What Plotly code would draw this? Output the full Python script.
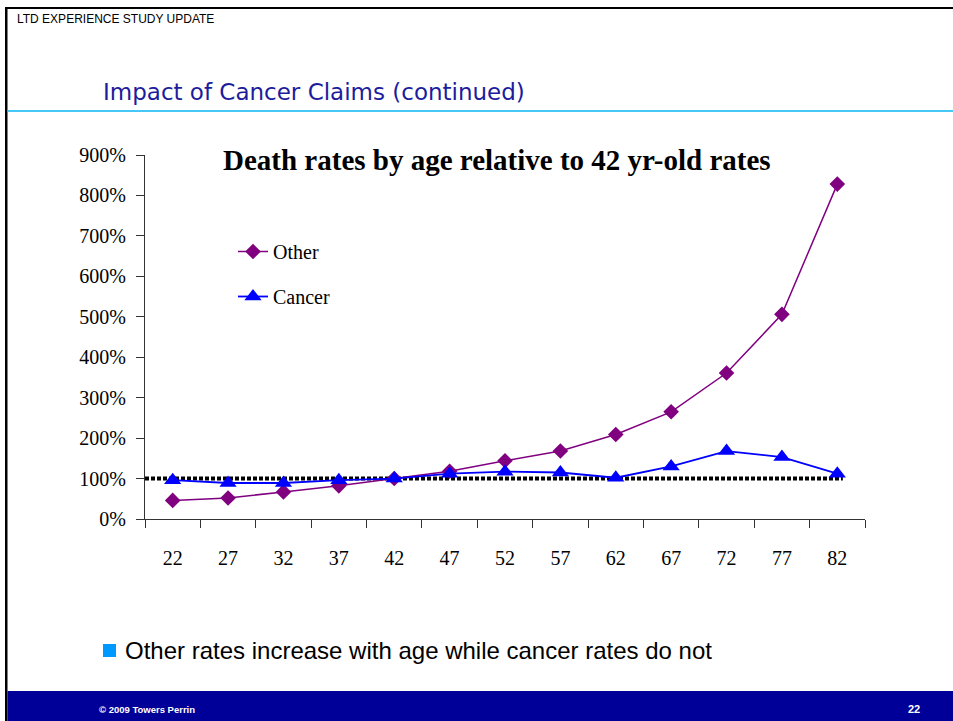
import plotly.graph_objects as go

# Ages (category axis) and death rates relative to age-42 rates, in percent
ages = ["22", "27", "32", "37", "42", "47", "52", "57", "62", "67", "72", "77", "82"]
other_rates = [46, 52, 67, 82, 100, 118, 144, 168, 209, 265, 361, 506, 828]
cancer_rates = [96, 89, 89, 96, 100, 112, 117, 115, 102, 130, 168, 153, 112]
baseline_rate = 100

y_tickvals = [0, 100, 200, 300, 400, 500, 600, 700, 800, 900]
y_ticktext = [f"{v}%" for v in y_tickvals]

W, H = 953, 721
PLOT_L, PLOT_R, PLOT_T, PLOT_B = 145, 865, 155, 519

SERIF = "Garamond, 'Liberation Serif', serif"
SANS = "Arial, 'Liberation Sans', sans-serif"


def px_x(x):
    return (x - PLOT_L) / (PLOT_R - PLOT_L)


def px_y(y):
    return (PLOT_B - y) / (PLOT_B - PLOT_T)


fig = go.Figure()

fig.add_trace(go.Scatter(
    x=ages, y=other_rates, name="Other", mode="lines+markers",
    line=dict(color="#800080", width=1.5),
    marker=dict(symbol="diamond", size=12, color="#800080"),
    legendgroup="a",
))
fig.add_trace(go.Scatter(
    x=ages, y=cancer_rates, name="Cancer", mode="lines+markers",
    line=dict(color="#0000ff", width=1.8),
    marker=dict(symbol="triangle-up", size=15, color="#0000ff"),
    legendgroup="b",
))

shapes = [
    # dotted 100% reference line
    dict(type="line", xref="x", yref="y", x0=-0.5, x1=12.1,
         y0=baseline_rate, y1=baseline_rate, layer="below",
         line=dict(color="black", width=4, dash="4px,2px")),
    # slide frame: top and left rules
    dict(type="rect", xref="paper", yref="paper",
         x0=px_x(5), x1=px_x(W + 5), y0=px_y(9), y1=px_y(7),
         fillcolor="black", line=dict(width=0)),
    dict(type="rect", xref="paper", yref="paper",
         x0=px_x(5), x1=px_x(7.5), y0=px_y(H + 5), y1=px_y(7),
         fillcolor="black", line=dict(width=0)),
    # light blue rule under the slide heading
    dict(type="rect", xref="paper", yref="paper",
         x0=px_x(7.5), x1=px_x(W + 5), y0=px_y(112), y1=px_y(110),
         fillcolor="#45c8f5", line=dict(width=0)),
    # footer band
    dict(type="rect", xref="paper", yref="paper",
         x0=px_x(7.5), x1=px_x(W + 5), y0=px_y(H + 5), y1=px_y(691),
         fillcolor="#000099", line=dict(width=0)),
    # bullet square
    dict(type="rect", xref="paper", yref="paper",
         x0=px_x(103), x1=px_x(116), y0=px_y(657), y1=px_y(644),
         fillcolor="#0099ff", line=dict(width=0)),
]

annotations = [
    dict(text="LTD EXPERIENCE STUDY UPDATE", x=px_x(15), y=px_y(19),
         xanchor="left", yanchor="middle",
         font=dict(family=SANS, size=12, color="black")),
    dict(text="Impact of Cancer Claims (continued)", x=px_x(101), y=px_y(92),
         xanchor="left", yanchor="middle",
         font=dict(family="Verdana, 'DejaVu Sans', sans-serif", size=23, color="#1c1c9c")),
    dict(text="<b>Death rates by age relative to 42 yr-old rates</b>",
         x=px_x(497), y=px_y(160), xanchor="center", yanchor="middle",
         font=dict(family=SERIF, size=29, color="black")),
    dict(text="Other rates increase with age while cancer rates do not",
         x=px_x(123), y=px_y(650), xanchor="left", yanchor="middle",
         font=dict(family=SANS, size=24, color="black")),
    dict(text="<b>© 2009 Towers Perrin</b>", x=px_x(97), y=px_y(709),
         xanchor="left", yanchor="middle",
         font=dict(family=SANS, size=9.5, color="white")),
    dict(text="<b>22</b>", x=px_x(922), y=px_y(709),
         xanchor="right", yanchor="middle",
         font=dict(family=SANS, size=11, color="white")),
]
for a in annotations:
    a.update(xref="paper", yref="paper", showarrow=False)

fig.update_layout(
    width=W, height=H,
    margin=dict(l=PLOT_L, r=W - PLOT_R, t=PLOT_T, b=H - PLOT_B, pad=0),
    paper_bgcolor="white", plot_bgcolor="white",
    showlegend=True,
    legend=dict(
        x=px_x(233), y=px_y(232), xanchor="left", yanchor="top",
        font=dict(family=SERIF, size=20, color="black"),
        bgcolor="rgba(0,0,0,0)", traceorder="grouped", tracegroupgap=16,
    ),
    shapes=shapes,
    annotations=annotations,
)

fig.update_xaxes(
    type="category", categoryorder="array", categoryarray=ages,
    range=[-0.5, 12.5], tickson="boundaries",
    showline=True, linecolor="#333333", linewidth=1,
    ticks="outside", ticklen=8, tickcolor="#333333",
    showgrid=False, zeroline=False,
    ticklabelstandoff=21,
    tickfont=dict(family=SERIF, size=20, color="black"),
)
fig.update_yaxes(
    range=[0, 900], tickvals=y_tickvals, ticktext=y_ticktext,
    showline=True, linecolor="#333333", linewidth=1,
    ticks="outside", ticklen=8, tickcolor="#333333",
    showgrid=False, zeroline=False,
    ticklabelstandoff=6,
    tickfont=dict(family=SERIF, size=20, color="black"),
)

fig.write_html("out.html")
